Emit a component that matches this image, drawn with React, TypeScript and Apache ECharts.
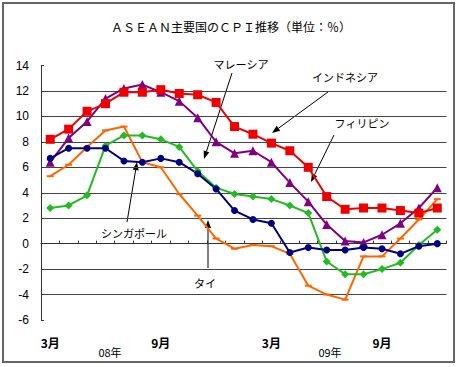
import React, { useEffect, useRef } from 'react';
import * as echarts from 'echarts';

const months = ['3月','4月','5月','6月','7月','8月','9月','10月','11月','12月','1月','2月','3月','4月','5月','6月','7月','8月','9月','10月','11月','12月'];
const yearLabels = ['08年', '09年'];
const indonesia = [8.2, 9.0, 10.4, 11.0, 11.9, 11.9, 12.1, 11.8, 11.7, 11.1, 9.2, 8.6, 7.9, 7.3, 6.0, 3.7, 2.7, 2.8, 2.8, 2.6, 2.4, 2.8];
const philippines = [6.4, 8.3, 9.6, 11.4, 12.2, 12.5, 11.9, 11.2, 9.9, 8.0, 7.1, 7.3, 6.4, 4.8, 3.3, 1.5, 0.2, 0.1, 0.7, 1.6, 2.8, 4.4];
const malaysia = [2.8, 3.0, 3.8, 7.7, 8.5, 8.5, 8.2, 7.6, 5.7, 4.4, 3.9, 3.7, 3.5, 3.0, 2.4, -1.4, -2.4, -2.4, -2.0, -1.5, -0.1, 1.1];
const singapore = [6.7, 7.5, 7.5, 7.5, 6.5, 6.4, 6.7, 6.4, 5.5, 4.3, 2.6, 1.9, 1.6, -0.7, -0.3, -0.5, -0.5, -0.3, -0.4, -0.8, -0.2, 0.0];
const thailand = [5.3, 6.2, 7.6, 8.9, 9.2, 6.4, 6.0, 3.9, 2.2, 0.4, -0.4, -0.1, -0.2, -0.8, -3.3, -4.0, -4.4, -1.0, -1.0, 0.4, 1.9, 3.5];

const JP = '"Noto Sans CJK JP", sans-serif';

function arrow(x1: number, y1: number, x2: number, y2: number) {
  const dx = x2 - x1, dy = y2 - y1;
  const len = Math.hypot(dx, dy);
  const ux = dx / len, uy = dy / len;
  const hl = 8, hw = 3;
  const bx = x2 - ux * hl, by = y2 - uy * hl;
  const px = -uy, py = ux;
  return [
    { type: 'line', shape: { x1, y1, x2: bx, y2: by }, style: { stroke: '#000', lineWidth: 1 } },
    { type: 'polygon', shape: { points: [[x2, y2], [bx + px * hw, by + py * hw], [bx - px * hw, by - py * hw]] }, style: { fill: '#000' } },
  ];
}

function label(text: string, x: number, y: number, size = 11) {
  return {
    type: 'text', x, y,
    style: { text, fontSize: size, fontFamily: JP, fill: '#000', textAlign: 'center', textVerticalAlign: 'middle' },
  };
}

export default function App() {
  const ref = useRef<HTMLDivElement>(null);
  useEffect(() => {
    const chart = echarts.init(ref.current!, null, { renderer: 'svg' });
    const splitColors = ['transparent', '#444', '#444', '#444', '#444', '#444', '#444', '#444', '#444', '#444', 'transparent'];
    chart.setOption({
      animation: false,
      backgroundColor: '#fff',
      title: {
        text: 'ＡＳＥＡＮ主要国のＣＰＩ推移（単位：％）',
        left: 226, top: 15, textAlign: 'center',
        textStyle: { fontSize: 12, fontWeight: 'normal', fontFamily: JP, color: '#000' },
      },
      grid: { left: 41, right: 12.5, top: 65.5, bottom: 47, containLabel: false },
      xAxis: {
        type: 'category',
        data: months,
        boundaryGap: true,
        axisLine: { show: true, lineStyle: { color: '#333', width: 1 } },
        axisTick: { show: true, inside: true, length: 3, alignWithLabel: false, interval: 0, lineStyle: { color: '#333' } },
        axisLabel: {
          interval: (i: number) => i % 6 === 0,
          margin: 16, fontSize: 12, fontWeight: 'bold', color: '#000', fontFamily: JP,
        },
        splitLine: { show: false },
      },
      yAxis: {
        type: 'value', min: -6, max: 14, interval: 2,
        axisLine: { show: true, lineStyle: { color: '#333', width: 1 } },
        axisTick: { show: true, inside: true, length: 3, lineStyle: { color: '#333' } },
        axisLabel: { fontSize: 12, color: '#000', margin: 12, fontFamily: '"Liberation Sans", Arial, sans-serif' },
        splitLine: { show: true, lineStyle: { color: splitColors, width: 1 } },
      },
      series: [
        { name: 'タイ', type: 'line', data: thailand, symbol: 'rect', symbolSize: [7, 2], lineStyle: { color: '#FF6600', width: 2 }, itemStyle: { color: '#FF6600' } },
        { name: 'マレーシア', type: 'line', data: malaysia, symbol: 'diamond', symbolSize: 8, lineStyle: { color: '#22BB22', width: 2 }, itemStyle: { color: '#22BB22' } },
        { name: 'フィリピン', type: 'line', data: philippines, symbol: 'triangle', symbolSize: 9, lineStyle: { color: '#800080', width: 2 }, itemStyle: { color: '#800080' } },
        { name: 'シンガポール', type: 'line', data: singapore, symbol: 'circle', symbolSize: 7, lineStyle: { color: '#000080', width: 2 }, itemStyle: { color: '#000080' } },
        { name: 'インドネシア', type: 'line', data: indonesia, symbol: 'rect', symbolSize: 9, lineStyle: { color: '#EE0000', width: 2 }, itemStyle: { color: '#EE0000' } },
      ],
      graphic: [
        { type: 'rect', shape: { x: 3, y: 3, width: 451, height: 359 }, style: { fill: 'none', stroke: '#666', lineWidth: 2 }, z: 100 },
        label('マレーシア', 241, 64),
        ...arrow(232, 73, 204, 159),
        label('インドネシア', 345, 77),
        ...arrow(328, 92, 272, 133),
        label('フィリピン', 362, 123),
        ...arrow(334, 135, 311, 182),
        label('シンガポール', 134, 233),
        ...arrow(127, 222, 137, 162),
        label('タイ', 205, 283),
        ...arrow(208, 268, 208, 220),
        label(yearLabels[0], 110, 352),
        label(yearLabels[1], 330, 352),
      ],
    });
    return () => chart.dispose();
  }, []);
  return <div ref={ref} style={{ position: 'fixed', left: 0, top: 0, width: 459, height: 367, background: '#fff' }} />;
}
